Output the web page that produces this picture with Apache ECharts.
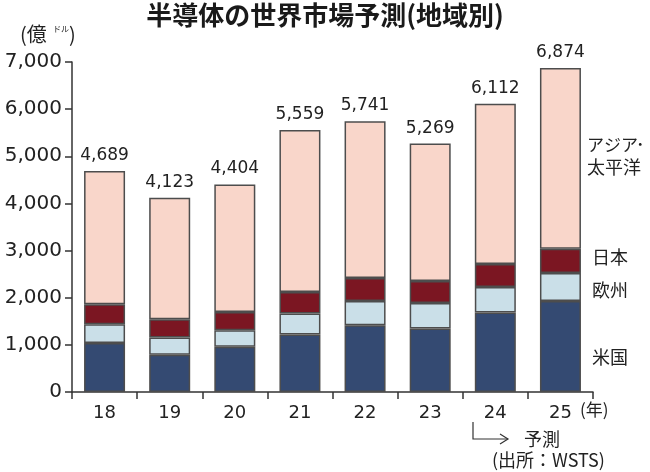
<!DOCTYPE html>
<html>
<head>
<meta charset="utf-8">
<title>半導体の世界市場予測(地域別)</title>
<script src="https://cdn.jsdelivr.net/npm/echarts@6/dist/echarts.min.js"></script>
<style>
  html, body { margin: 0; padding: 0; background: #fff; }
  #chart { width: 650px; height: 472px; }
</style>
</head>
<body>
<div id="chart"></div>
<script>
// 年 (2018〜2025, 24・25は予測)
var years = ['18', '19', '20', '21', '22', '23', '24', '25'];
// 地域別 (億ドル) 図から読み取り
var usa    = [1042, 789, 958, 1220, 1416, 1346, 1684, 1930];
var europe = [395, 367, 353, 444, 514, 542, 543, 593];
var japan  = [423, 387, 387, 457, 487, 466, 486, 514];
var asia   = [2829, 2580, 2706, 3438, 3324, 2915, 3399, 3837];
// 合計 (棒の上の数字)
var totals = [4689, 4123, 4404, 5559, 5741, 5269, 6112, 6874];

var numFont = 'DejaVu Sans';
var ink = '#222';

var chart = echarts.init(document.getElementById('chart'));

function seg(name, data, color) {
    return {
        name: name,
        type: 'bar',
        stack: 'all',
        barWidth: 41,
        data: data,
        itemStyle: {
            color: color,
            borderColor: '#4d4d4d',
            borderWidth: 1.5
        },
        emphasis: { disabled: true }
    };
}

var asiaSeries = seg('アジア・太平洋', asia, '#f9d6ca');
asiaSeries.label = {
    show: true,
    position: 'top',
    distance: 7,
    fontFamily: numFont,
    fontSize: 17,
    color: ink,
    formatter: function (p) {
        return totals[p.dataIndex].toLocaleString('en-US');
    }
};

var option = {
    animation: false,
    grid: { left: 72, right: 57, top: 62, bottom: 80 },
    xAxis: {
        type: 'category',
        data: years,
        boundaryGap: true,
        axisLine: { lineStyle: { color: '#333', width: 1.5 } },
        axisTick: { show: true, length: 7, alignWithLabel: false, lineStyle: { color: '#333', width: 1.5 } },
        axisLabel: { margin: 12, fontFamily: numFont, fontSize: 18, color: ink }
    },
    yAxis: {
        type: 'value',
        min: 0,
        max: 7000,
        interval: 1000,
        splitLine: { show: false },
        axisLine: { show: true, lineStyle: { color: '#333', width: 1.5 } },
        axisTick: { show: true, length: 7, lineStyle: { color: '#333', width: 1.5 } },
        axisLabel: {
            margin: 10,
            fontFamily: numFont,
            fontSize: 20,
            color: ink,
            formatter: function (v) { return v.toLocaleString('en-US'); }
        }
    },
    series: [
        seg('米国', usa, '#344a72'),
        seg('欧州', europe, '#cadfe8'),
        seg('日本', japan, '#7b1622'),
        asiaSeries
    ],
    graphic: [
        // タイトル
        { type: 'text', left: 'center', top: 2,
          style: { text: '半導体の世界市場予測(地域別)', font: 'bold 26px "Noto Sans CJK JP"', fill: '#1a1a1a' } },
        // 単位
        { type: 'text', x: 20, y: 34,
          style: { text: '(億', font: '20px "Noto Sans CJK JP"', fill: ink, verticalAlign: 'middle' } },
        { type: 'text', x: 53, y: 29,
          style: { text: 'ドル', font: '8px "Noto Sans CJK JP"', fill: ink, verticalAlign: 'middle' } },
        { type: 'text', x: 69, y: 34,
          style: { text: ')', font: '20px "Noto Sans CJK JP"', fill: ink, verticalAlign: 'middle' } },
        // 地域名
        { type: 'text', x: 587, y: 145,
          style: { text: 'アジア', font: '17px "Noto Sans CJK JP"', fill: ink, verticalAlign: 'middle' } },
        { type: 'text', x: 636, y: 145,
          style: { text: '･', font: '17px "Noto Sans CJK JP"', fill: ink, verticalAlign: 'middle' } },
        { type: 'text', x: 587, y: 167,
          style: { text: '太平洋', font: '18px "Noto Sans CJK JP"', fill: ink, verticalAlign: 'middle' } },
        { type: 'text', x: 592, y: 257,
          style: { text: '日本', font: '18px "Noto Sans CJK JP"', fill: ink, verticalAlign: 'middle' } },
        { type: 'text', x: 592, y: 290,
          style: { text: '欧州', font: '18px "Noto Sans CJK JP"', fill: ink, verticalAlign: 'middle' } },
        { type: 'text', x: 592, y: 357,
          style: { text: '米国', font: '18px "Noto Sans CJK JP"', fill: ink, verticalAlign: 'middle' } },
        // (年)
        { type: 'text', x: 580, y: 410,
          style: { text: '(年)', font: '17px "Noto Sans CJK JP"', fill: ink, verticalAlign: 'middle' } },
        // 予測の矢印
        { type: 'polyline', shape: { points: [[473, 422], [473, 439], [508, 439]] },
          style: { stroke: '#333', lineWidth: 1.2, fill: null } },
        { type: 'polyline', shape: { points: [[500, 434], [508, 439], [500, 444]] },
          style: { stroke: '#333', lineWidth: 1.2, fill: null } },
        { type: 'text', x: 524, y: 439,
          style: { text: '予測', font: '18px "Noto Sans CJK JP"', fill: ink, verticalAlign: 'middle' } },
        { type: 'text', x: 492, y: 460,
          style: { text: '(出所：WSTS)', font: '18px "Noto Sans CJK JP"', fill: ink, verticalAlign: 'middle' } }
    ]
};

chart.setOption(option);
</script>
</body>
</html>
